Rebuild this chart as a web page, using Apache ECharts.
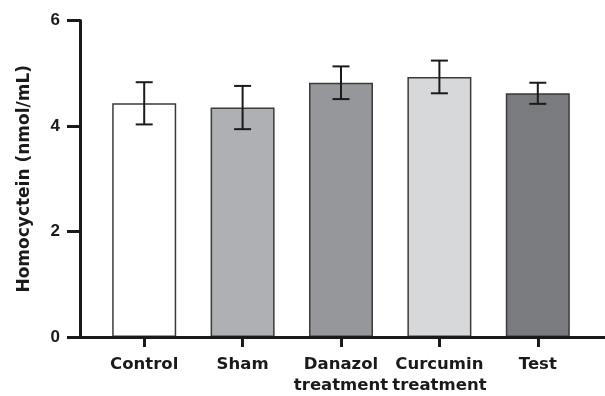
<!DOCTYPE html>
<html>
<head>
<meta charset="utf-8">
<script src="https://cdn.jsdelivr.net/npm/echarts@6/dist/echarts.min.js"></script>
<style>html,body{margin:0;padding:0;background:#fff;}#c{width:605px;height:396px;}</style>
</head>
<body>
<div id="c"></div>
<script>
const categories = ['Control', 'Sham', 'Danazol\ntreatment', 'Curcumin\ntreatment', 'Test'];
const means = [4.43, 4.35, 4.82, 4.93, 4.62];
const errors = [0.40, 0.41, 0.31, 0.31, 0.20];
const barColors = ['#ffffff', '#afb0b3', '#96979a', '#d7d8da', '#7a7b7e'];
const yTicks = [0, 2, 4, 6];
const yTitle = 'Homocyctein (nmol/mL)';

const chart = echarts.init(document.getElementById('c'), null, {renderer: 'canvas'});
const labelFont = {color: '#1a1a1a', fontWeight: 'bold', fontFamily: 'DejaVu Sans', fontSize: 16.5};

chart.setOption({
  animation: false,
  backgroundColor: '#ffffff',
  grid: [
    {left: 80, right: 0, top: 20.5, bottom: 59, outerBoundsMode: 'none', containLabel: false},
    {left: 95, width: 492, top: 20.5, bottom: 59, outerBoundsMode: 'none', containLabel: false}
  ],
  xAxis: [
    {gridIndex: 0, type: 'value', min: 0, max: 1, splitLine: {show: false}, z: 10,
     axisLine: {show: true, lineStyle: {color: '#1a1a1a', width: 3}},
     axisTick: {show: false}, axisLabel: {show: false}},
    {gridIndex: 1, type: 'category', data: categories,
     axisLine: {show: false},
     axisTick: {show: true, alignWithLabel: true, length: 10, lineStyle: {color: '#1a1a1a', width: 3}},
     axisLabel: Object.assign({margin: 17, lineHeight: 21, interval: 0}, labelFont)}
  ],
  yAxis: [
    {gridIndex: 0, type: 'value', min: yTicks[0], max: yTicks[yTicks.length - 1], interval: 2,
     splitLine: {show: false}, z: 10,
     axisLine: {show: true, lineStyle: {color: '#1a1a1a', width: 3}},
     axisTick: {show: true, length: 13, lineStyle: {color: '#1a1a1a', width: 3}},
     axisLabel: {margin: 20, color: '#1a1a1a', fontWeight: 'bold', fontFamily: 'Liberation Sans', fontSize: 17},
     name: yTitle, nameLocation: 'middle', nameRotate: 90, nameGap: 47,
     nameTextStyle: {color: '#1a1a1a', fontWeight: 'bold', fontFamily: 'DejaVu Sans', fontSize: 17}},
    {gridIndex: 1, type: 'value', min: yTicks[0], max: yTicks[yTicks.length - 1], show: false}
  ],
  series: [
    {type: 'bar', xAxisIndex: 1, yAxisIndex: 1, barWidth: 64,
     data: means.map((v, i) => ({value: v, itemStyle: {color: barColors[i]}})),
     itemStyle: {borderColor: '#3a3a3a', borderWidth: 1.5}},
    {type: 'custom', xAxisIndex: 1, yAxisIndex: 1, z: 5,
     data: means.map((v, i) => [i, v - errors[i], v + errors[i]]),
     renderItem: function (params, api) {
       const lo = api.coord([api.value(0), api.value(1)]);
       const hi = api.coord([api.value(0), api.value(2)]);
       const hw = 8.5;
       const st = {stroke: '#1a1a1a', lineWidth: 2};
       return {type: 'group', children: [
         {type: 'line', shape: {x1: lo[0], y1: lo[1], x2: hi[0], y2: hi[1]}, style: st},
         {type: 'line', shape: {x1: lo[0] - hw, y1: lo[1], x2: lo[0] + hw, y2: lo[1]}, style: st},
         {type: 'line', shape: {x1: hi[0] - hw, y1: hi[1], x2: hi[0] + hw, y2: hi[1]}, style: st}
       ]};
     }}
  ]
});
</script>
</body>
</html>
